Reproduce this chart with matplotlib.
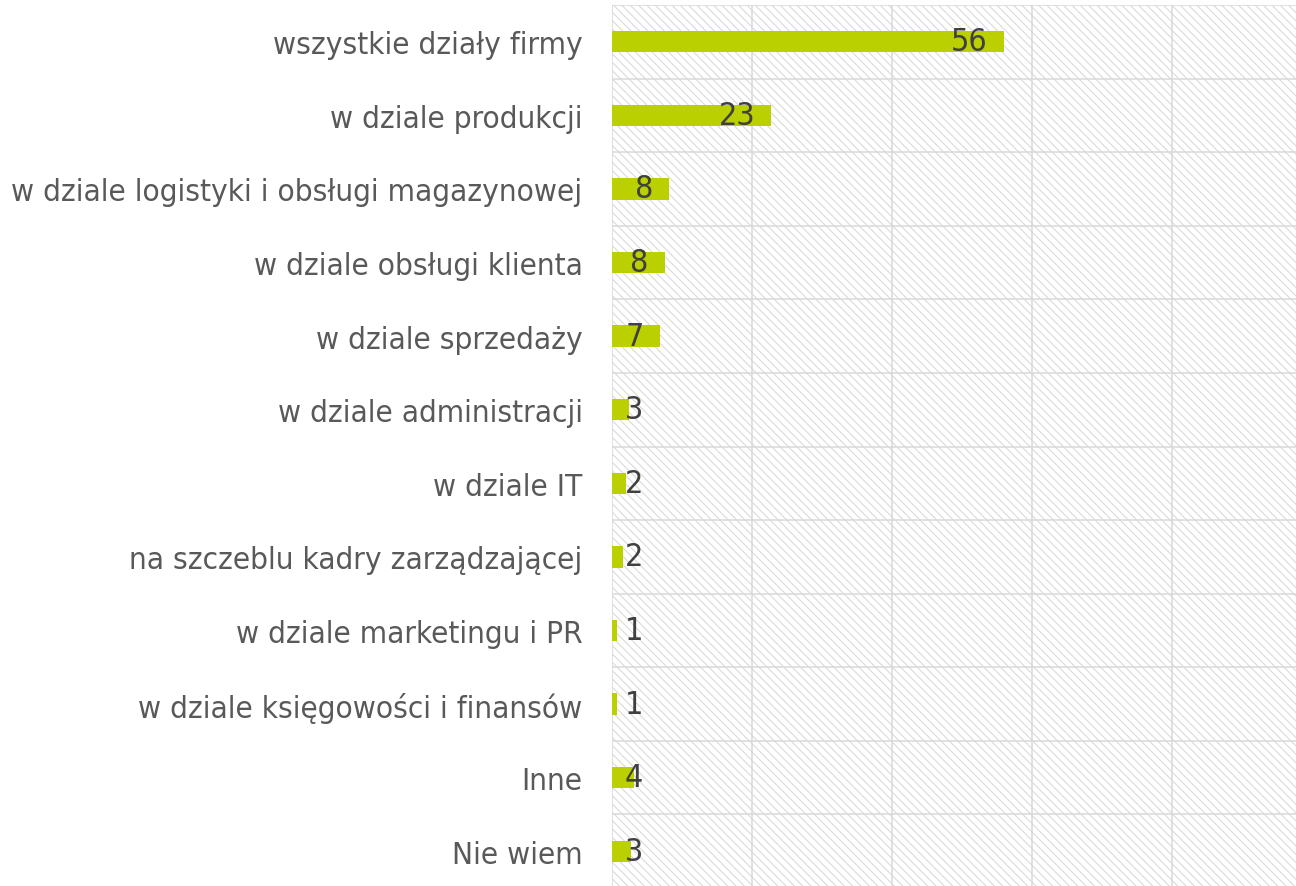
import matplotlib
matplotlib.use("Agg")
import matplotlib.pyplot as plt
from matplotlib.patches import Rectangle
import numpy as np

# ---- data ----
categories = [
    "wszystkie działy firmy",
    "w dziale produkcji",
    "w dziale logistyki i obsługi magazynowej",
    "w dziale obsługi klienta",
    "w dziale sprzedaży",
    "w dziale administracji",
    "w dziale IT",
    "na szczeblu kadry zarządzającej",
    "w dziale marketingu i PR",
    "w dziale księgowości i finansów",
    "Inne",
    "Nie wiem",
]
values = [56.0, 22.8, 8.2, 7.6, 6.9, 2.5, 2.0, 1.6, 0.8, 0.8, 3.2, 2.8]
value_labels = ["56", "23", "8", "8", "7", "3", "2", "2", "1", "1", "4", "3"]
x_ticks = [0, 20, 40, 60, 80, 100]

BAR = "#bbd000"
GRID = "#d9d9d9"
LABEL = "#595959"
NUM = "#404040"

plt.rcParams.update({
    "font.family": "DejaVu Sans",
    "hatch.color": "#d8d8d8",
    "hatch.linewidth": 0.75,
})

W, H = 1296, 887
fig = plt.figure(figsize=(W / 100, H / 100), dpi=100)
# axes run off the right and bottom edges, as in the reference crop
ax = fig.add_axes([611.7 / W, (H - 889) / H, 700 / W, 883 / H])

ax.add_patch(Rectangle((0, 0), 1, 1, transform=ax.transAxes, facecolor="white",
                       edgecolor="#d8d8d8", hatch="\\\\\\\\", lw=0, zorder=0))

y = np.arange(len(categories))
ax.barh(y, values, height=0.29, color=BAR, zorder=3)

ax.set_xlim(0, 100)
ax.set_ylim(len(categories) - 0.5, -0.5)
ax.set_xticks(x_ticks)
ax.set_xticklabels([])
ax.set_yticks(y)
ax.set_yticklabels(categories, fontsize=22.6, color=LABEL, fontstretch="condensed")
ax.set_yticks(np.arange(len(categories) + 1) - 0.5, minor=True)
ax.tick_params(axis="both", which="both", length=0)
ax.tick_params(axis="y", pad=21)
ax.grid(axis="x", which="major", color=GRID, lw=1.1, zorder=1)
ax.grid(axis="y", which="minor", color=GRID, lw=1.1, zorder=1)
ax.set_axisbelow(True)
for s in ax.spines.values():
    s.set_visible(False)

# value labels: inside end of the bar, pushed right for short bars
for yi, v, lab in zip(y, values, value_labels):
    xr = max(v - 2.3, 2.2 + 2.3 * len(lab))
    ax.text(xr, yi, lab, ha="right", va="center", fontsize=23, color=NUM,
            fontstretch="condensed", zorder=4)

fig.savefig("out.png", dpi=100, facecolor="white")
